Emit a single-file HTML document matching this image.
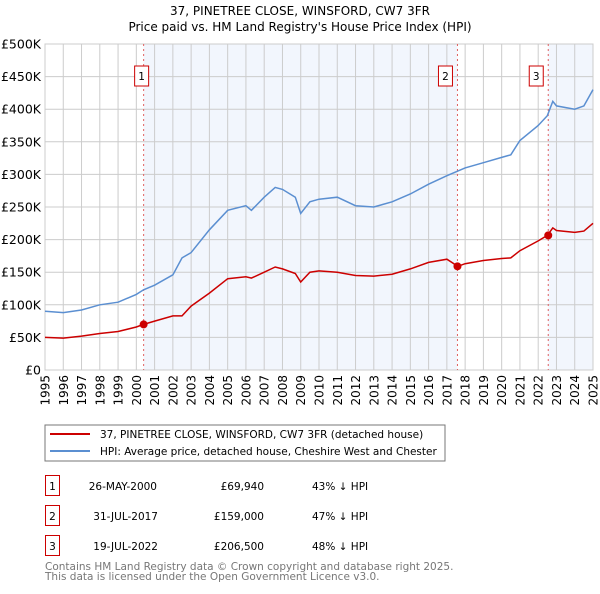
<!DOCTYPE html>
<html><head><meta charset="utf-8"><style>
body{margin:0;background:#fff;font-family:"DejaVu Sans","Liberation Sans",sans-serif;}
svg text{font-family:"DejaVu Sans","Liberation Sans",sans-serif;}
</style></head><body>
<svg id="c" width="600" height="590" xmlns="http://www.w3.org/2000/svg">
<text x="300" y="15" text-anchor="middle" font-size="12">37, PINETREE CLOSE, WINSFORD, CW7 3FR</text>
<text x="300" y="31" text-anchor="middle" font-size="12">Price paid vs. HM Land Registry's House Price Index (HPI)</text>
<g id="plot"></g>
<rect x="45" y="425" width="400" height="36" fill="#fff" stroke="#777"/>
<line x1="50" y1="434" x2="90" y2="434" stroke="#cc0000" stroke-width="2"/>
<text x="100" y="438" font-size="10.5">37, PINETREE CLOSE, WINSFORD, CW7 3FR (detached house)</text>
<line x1="50" y1="451" x2="90" y2="451" stroke="#5b8fd1" stroke-width="2"/>
<text x="100" y="455" font-size="10.5">HPI: Average price, detached house, Cheshire West and Chester</text>
<g font-size="10.5">
<rect x="45.5" y="475.5" width="14" height="20" fill="none" stroke="#cc0000"/>
<text x="52.5" y="490" text-anchor="middle">1</text>
<text x="157" y="490" text-anchor="end">26-MAY-2000</text>
<text x="264" y="490" text-anchor="end">£69,940</text>
<text x="312" y="490">43% ↓ HPI</text>
<rect x="45.5" y="505.5" width="14" height="20" fill="none" stroke="#cc0000"/>
<text x="52.5" y="520" text-anchor="middle">2</text>
<text x="158" y="520" text-anchor="end">31-JUL-2017</text>
<text x="264" y="520" text-anchor="end">£159,000</text>
<text x="312" y="520">47% ↓ HPI</text>
<rect x="45.5" y="535.5" width="14" height="20" fill="none" stroke="#cc0000"/>
<text x="52.5" y="550" text-anchor="middle">3</text>
<text x="158" y="550" text-anchor="end">19-JUL-2022</text>
<text x="264" y="550" text-anchor="end">£206,500</text>
<text x="312" y="550">48% ↓ HPI</text>
</g>
<text x="45" y="570" font-size="10.5" fill="#777">Contains HM Land Registry data © Crown copyright and database right 2025.</text>
<text x="45" y="580" font-size="10.5" fill="#777">This data is licensed under the Open Government Licence v3.0.</text>
</svg>
<script>
const hpiYears=[1995,1996,1997,1998,1999,2000,2000.4,2001,2002,2002.5,2003,2004,2005,2006,2006.3,2007,2007.6,2008,2008.7,2009,2009.5,2010,2011,2012,2013,2014,2015,2016,2017,2017.6,2018,2019,2020,2020.5,2021,2022,2022.5,2022.8,2023,2024,2024.5,2025];
const hpiValues=[90,88,92,100,104,116,123,130,146,172,180,215,245,252,245,265,280,277,265,240,258,262,265,252,250,258,270,285,298,305,310,318,326,330,352,375,390,412,405,400,405,430];
const propValues=[50,49,52,56,59,66,70,75,83,83,98,118,140,143,141,150,158,155,148,135,150,152,150,145,144,147,155,165,170,159,163,168,171,172,183,198,206.5,218,214,211,213,225];
const saleYears=[2000.4,2017.58,2022.55];
const salePrices=[69.94,159,206.5];
const saleLabels=["1","2","3"];
const yTicks=[0,50,100,150,200,250,300,350,400,450,500];
const yTickLabels=["£0","£50K","£100K","£150K","£200K","£250K","£300K","£350K","£400K","£450K","£500K"];
const xTicks=[1995,1996,1997,1998,1999,2000,2001,2002,2003,2004,2005,2006,2007,2008,2009,2010,2011,2012,2013,2014,2015,2016,2017,2018,2019,2020,2021,2022,2023,2024,2025];

const L=45,R=593,T=44,B=370,NS="http://www.w3.org/2000/svg";
const xs=y=>L+(y-1995)/30*(R-L);
const ys=v=>B-v/500*(B-T);
const g=document.getElementById('plot');
function mk(t,a){const e=document.createElementNS(NS,t);for(const k in a)e.setAttribute(k,a[k]);g.appendChild(e);return e;}
const bg=mk('rect',{x:L,y:T,width:R-L,height:B-T,fill:'#fff'});


[[saleYears[0],saleYears[1]],[saleYears[2],2025]].forEach(s=>{
 const r=mk('rect',{x:xs(s[0]),y:T,width:xs(s[1])-xs(s[0]),height:B-T,fill:'#eef3fc',opacity:0.75});
 
 
});
yTicks.forEach((v,i)=>{
 const l=mk('line',{x1:L,x2:R,y1:ys(v),y2:ys(v),stroke:'#ccc'});
 
 
 const t=mk('text',{x:L-4,y:ys(v)+4.5,'text-anchor':'end','font-size':'12.5'});
 t.textContent=yTickLabels[i];
 
 
});
xTicks.forEach(y=>{
 const l=mk('line',{x1:xs(y),x2:xs(y),y1:T,y2:B,stroke:'#ccc'});
 
 
 const t=mk('text',{x:0,y:0,'text-anchor':'end','font-size':'12',transform:`translate(${xs(y)+4.5},${B+5}) rotate(-90)`});
 t.textContent=y;
 
 
});
const frame=mk('rect',{x:L,y:T,width:R-L,height:B-T,fill:'none',stroke:'#ccc'});


saleYears.forEach((y,i)=>{
 const l=mk('line',{x1:xs(y),x2:xs(y),y1:T,y2:B,stroke:'#e06060','stroke-dasharray':'2,3'});
 
 
 const bx=xs(y)-(i==0?9:19);
 const r=mk('rect',{x:bx,y:T+22,width:14,height:20,fill:'#fff',stroke:'#cc0000'});
 
 
 const t=mk('text',{x:bx+7,y:T+36,'text-anchor':'middle','font-size':'10.5'});
 t.textContent=saleLabels[i];
 
 
});
const pts=v=>hpiYears.map((y,i)=>xs(y).toFixed(1)+','+ys(v[i]).toFixed(1)).join(' ');
const h=mk('polyline',{points:pts(hpiValues),fill:'none',stroke:'#5b8fd1','stroke-width':1.5});


const p=mk('polyline',{points:pts(propValues),fill:'none',stroke:'#cc0000','stroke-width':1.5});


saleYears.forEach((y,i)=>{
 const c=mk('circle',{cx:xs(y),cy:ys(salePrices[i]),r:4,fill:'#cc0000'});
 
 
});
</script>
</body></html>
